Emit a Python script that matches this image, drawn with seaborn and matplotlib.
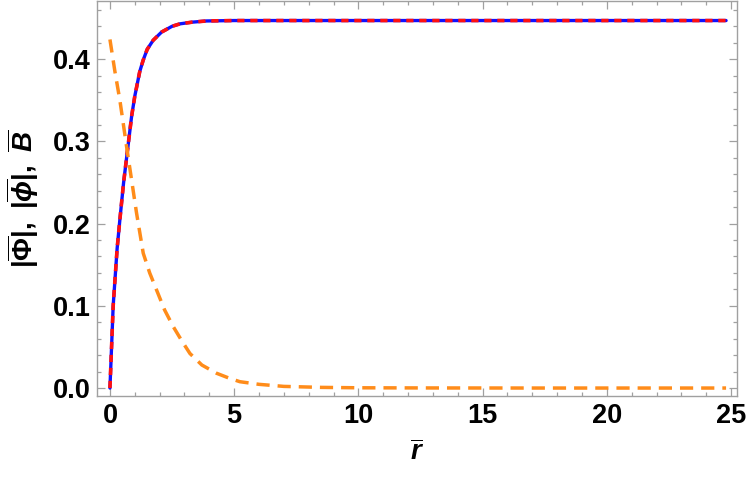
import matplotlib
matplotlib.use("Agg")
import matplotlib.pyplot as plt
import numpy as np
import pandas as pd
import seaborn as sns

# values
r_rise = [0, 0.13, 0.29, 0.40, 0.55, 0.70, 0.87, 1.0, 1.2, 1.34, 1.5, 1.74,
          2.08, 2.5, 2.82, 3.3, 3.89, 5, 8, 12, 16, 20, 24.8]
Phi_abs = [0, 0.10, 0.17, 0.205, 0.25, 0.2875, 0.33, 0.355, 0.385, 0.399, 0.412,
           0.423, 0.433, 0.440, 0.443, 0.445, 0.4465, 0.447, 0.447, 0.447,
           0.447, 0.447, 0.447]
phi_abs = list(Phi_abs)  # the two moduli lie on top of each other

r_field = [0, 0.2, 0.40, 0.70, 1.07, 1.34, 1.6, 1.88, 2.2, 2.55, 2.9, 3.22,
           3.7, 4.29, 4.8, 5.23, 6, 7, 8.5, 10, 13, 17, 21, 24.8]
B_field = [0.424, 0.385, 0.350, 0.2875, 0.213, 0.164, 0.140, 0.119, 0.095,
           0.0746, 0.057, 0.042, 0.028, 0.018, 0.012, 0.0077, 0.0045, 0.002,
           0.0008, 0.0003, 0.0001, 0, 0, 0]

sns.set_style("ticks")
plt.rcParams["font.family"] = ["Liberation Sans", "DejaVu Sans"]
plt.rcParams["font.weight"] = "bold"
plt.rcParams["text.color"] = "black"
plt.rcParams["axes.labelcolor"] = "black"
plt.rcParams["mathtext.fontset"] = "custom"
plt.rcParams["mathtext.rm"] = "Liberation Sans:bold"
plt.rcParams["mathtext.it"] = "Liberation Sans:bold:italic"
plt.rcParams["mathtext.bf"] = "Liberation Sans:bold"

fig = plt.figure(figsize=(7.5, 4.88), dpi=100)
ax = fig.add_axes([0.1297, 0.1885, 0.8533, 0.8095])

rise = pd.DataFrame({"r": r_rise, "Phi": Phi_abs, "phi": phi_abs})
field = pd.DataFrame({"r": r_field, "B": B_field})

sns.lineplot(data=rise, x="r", y="Phi", ax=ax, color="#1010ff", lw=2.4,
             sort=False, estimator=None)
sns.lineplot(data=rise, x="r", y="phi", ax=ax, color="#ff1010", lw=2.6,
             sort=False, estimator=None, linestyle=(0, (2.0, 1.6)),
             dash_capstyle="butt")
sns.lineplot(data=field, x="r", y="B", ax=ax, color="#ff8c1a", lw=2.5,
             sort=False, estimator=None, linestyle=(0, (3.8, 2.3)),
             dash_capstyle="butt")

ax.set_xlim(-0.51, 25.25)
ax.set_ylim(-0.0097, 0.4708)
ax.set_xticks([0, 5, 10, 15, 20, 25])
ax.set_yticks([0.0, 0.1, 0.2, 0.3, 0.4])
ax.set_yticklabels(["0.0", "0.1", "0.2", "0.3", "0.4"])
ax.set_xticks(np.arange(0, 26, 1), minor=True)
ax.set_yticks(np.arange(0, 0.47, 0.02), minor=True)

frame = "#a0a0a0"
for s in ax.spines.values():
    s.set_color(frame)
    s.set_linewidth(1.0)
ax.tick_params(which="both", direction="in", top=True, right=True,
               color=frame, width=0.9, labelcolor="black")
ax.tick_params(which="major", length=5.5, labelsize=19.5, pad=5)
ax.tick_params(which="minor", length=3)
for lab in ax.get_xticklabels() + ax.get_yticklabels():
    lab.set_fontweight("bold")

ax.set_xlabel(r"$\overline{r}$", fontsize=20, labelpad=8, color="black")
ax.set_ylabel(r"$|\overline{\Phi}|,\ |\overline{\phi}|,\ \overline{B}$",
              fontsize=20, labelpad=8, color="black")

fig.savefig("out.png", dpi=100)
